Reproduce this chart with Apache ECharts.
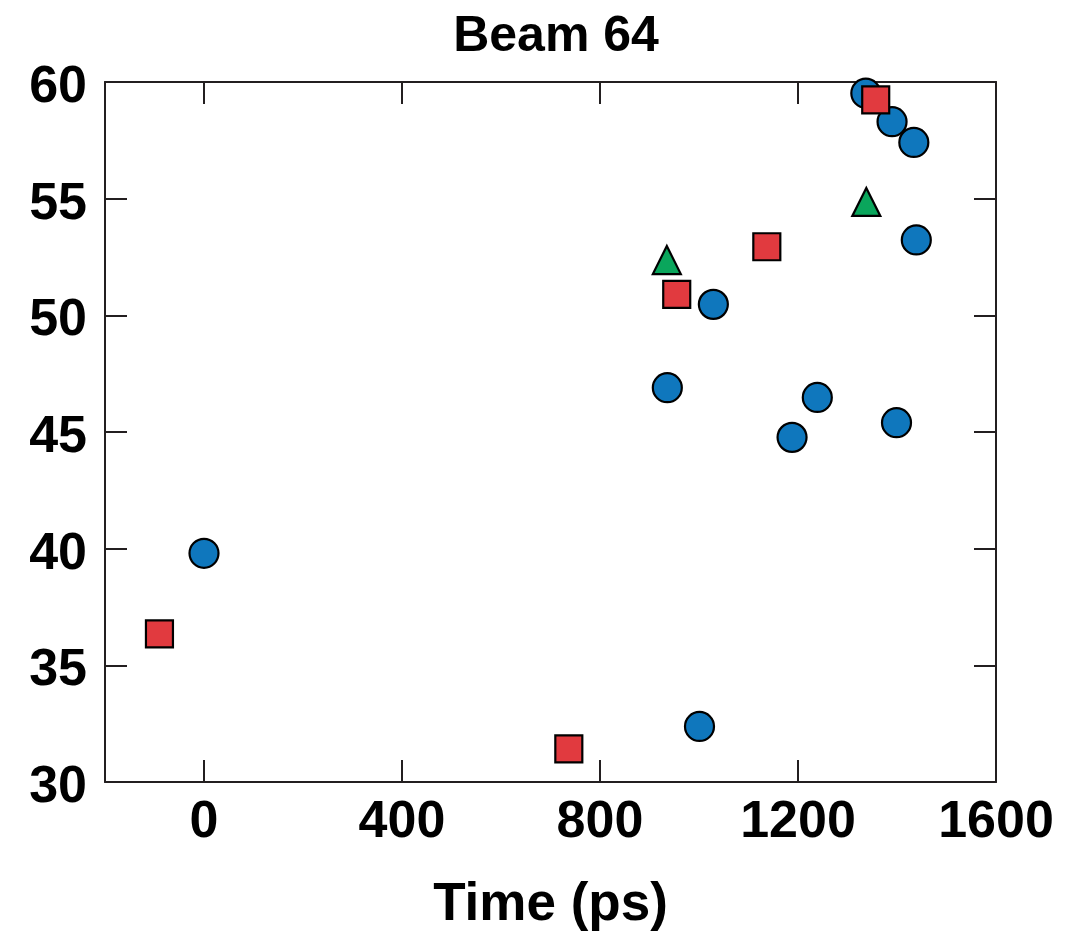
<!DOCTYPE html>
<html>
<head>
<meta charset="utf-8">
<script src="https://cdn.jsdelivr.net/npm/echarts@6/dist/echarts.min.js"></script>
<style>html,body{margin:0;padding:0;background:#fff}#c{width:1070px;height:937px}</style>
</head>
<body>
<div id="c"></div>
<script>
const xTicks = [0, 400, 800, 1200, 1600];
const yTicks = [30, 35, 40, 45, 50, 55, 60];
const blueX = [0, 936, 1029, 1001, 1188, 1239, 1399, 1439, 1434, 1390, 1337];
const blueY = [39.8, 46.9, 50.47, 32.38, 44.77, 46.48, 45.4, 53.23, 57.41, 58.3, 59.52];
const redX = [-90, 737, 955, 1137, 1357];
const redY = [36.35, 31.42, 50.9, 52.94, 59.23];
const greenX = [935, 1338];
const greenY = [52.37, 54.86];

const pair = (xs, ys) => xs.map((x, i) => [x, ys[i]]);
const FONT = '"Liberation Sans", Arial, Helvetica, sans-serif';
const axisColor = '#231f20';

const chart = echarts.init(document.getElementById('c'), null, {renderer: 'canvas'});
const baseX = {
  type: 'value', min: -200, max: 1600,
  axisLine: {show: true, onZero: false, lineStyle: {color: axisColor, width: 2}},
  axisTick: {show: true, inside: true, length: 22, customValues: xTicks, lineStyle: {color: axisColor, width: 2}},
  splitLine: {show: false}
};
const baseY = {
  type: 'value', min: 30, max: 60, interval: 5,
  axisLine: {show: true, onZero: false, lineStyle: {color: axisColor, width: 2}},
  axisTick: {show: true, inside: true, length: 22, customValues: yTicks, lineStyle: {color: axisColor, width: 2}},
  splitLine: {show: false}
};
chart.setOption({
  animation: false,
  backgroundColor: '#fff',
  title: {
    text: 'Beam 64', left: 551, top: 7, textAlign: 'center',
    textStyle: {fontFamily: FONT, fontWeight: 'bold', fontSize: 50, color: '#000'}
  },
  grid: {left: 105, right: 74, top: 82, bottom: 153, containLabel: false},
  xAxis: [
    Object.assign({}, baseX, {
      position: 'bottom',
      name: 'Time (ps)', nameLocation: 'middle', nameGap: 97,
      nameTextStyle: {fontFamily: FONT, fontWeight: 'bold', fontSize: 53, color: '#000'},
      axisLabel: {show: true, customValues: xTicks, margin: 15, formatter: v => String(v),
        fontFamily: FONT, fontWeight: 'bold', fontSize: 52, color: '#000'}
    }),
    Object.assign({}, baseX, {position: 'top', axisLabel: {show: false}})
  ],
  yAxis: [
    Object.assign({}, baseY, {
      position: 'left',
      axisLabel: {show: true, customValues: yTicks, margin: 18, verticalAlign: 'top', lineHeight: 11,
        formatter: v => String(v),
        fontFamily: FONT, fontWeight: 'bold', fontSize: 52, color: '#000'}
    }),
    Object.assign({}, baseY, {position: 'right', axisLabel: {show: false}})
  ],
  series: [
    {type: 'scatter', data: pair(blueX, blueY), symbol: 'circle', symbolSize: 29,
     itemStyle: {color: '#0f77bd', borderColor: '#000', borderWidth: 2.2, opacity: 1}, z: 3},
    {type: 'scatter', data: pair(redX, redY), symbol: 'rect', symbolSize: 27,
     itemStyle: {color: '#e13a3f', borderColor: '#000', borderWidth: 2.2, opacity: 1}, z: 4},
    {type: 'scatter', data: pair(greenX, greenY), symbol: 'triangle', symbolSize: 28,
     itemStyle: {color: '#0aa65c', borderColor: '#000', borderWidth: 2.2, opacity: 1}, z: 5}
  ]
});
</script>
</body>
</html>
